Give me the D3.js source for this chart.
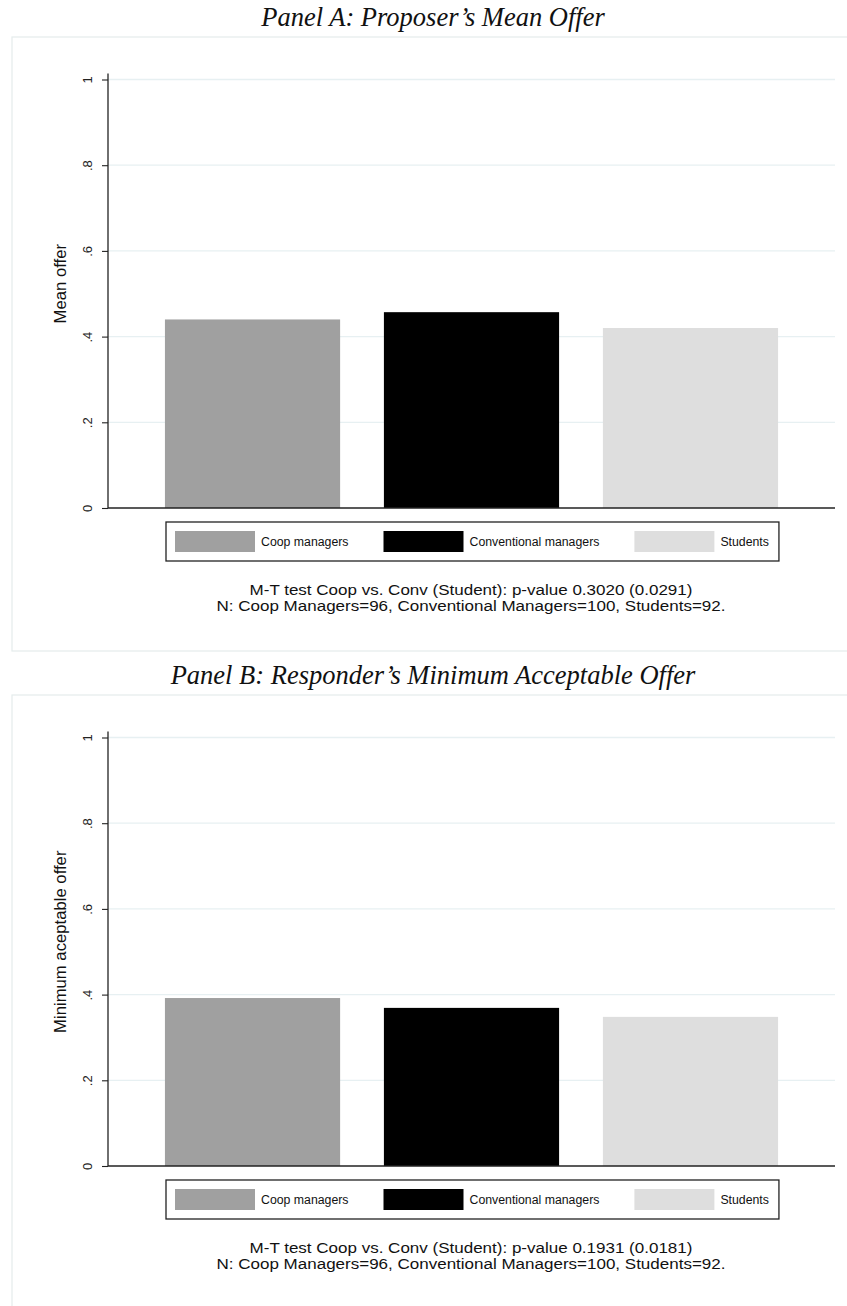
<!DOCTYPE html>
<html><head><meta charset="utf-8">
<script src="https://cdn.jsdelivr.net/npm/d3@7"></script>
<style>
html,body{margin:0;padding:0;background:#fff;}
svg{display:block;}
</style></head>
<body>
<svg id="chart" width="847" height="1306"></svg>
<script>
// ---- data ----
const groups = ["Coop managers", "Conventional managers", "Students"];
const meanOffer = [0.440, 0.457, 0.420];
const minAcceptable = [0.392, 0.369, 0.348];
const yTicks = [0, 0.2, 0.4, 0.6, 0.8, 1];
const yTickLabels = ["0", ".2", ".4", ".6", ".8", "1"];
const panelTitles = ["Panel A: Proposer\u2019s Mean Offer", "Panel B: Responder\u2019s Minimum Acceptable Offer"];
const yLabels = ["Mean offer", "Minimum aceptable offer"];
const notesA = ["M-T test Coop vs. Conv (Student): p-value 0.3020 (0.0291)", "N: Coop Managers=96, Conventional Managers=100, Students=92."];
const notesB = ["M-T test Coop vs. Conv (Student): p-value 0.1931 (0.0181)", "N: Coop Managers=96, Conventional Managers=100, Students=92."];

const colors = ["#a0a0a0", "#000000", "#dedede"];
const svg = d3.select("#chart");

function drawPanel(values, title, ylab, notes, dy) {
  const g = svg.append("g").attr("transform", `translate(0,${dy})`);
  // frame
  g.append("rect").attr("x", 12).attr("y", 37).attr("width", 850).attr("height", dy === 0 ? 614 : 700)
    .attr("fill", "#fff").attr("stroke", "#e4ecec").attr("stroke-width", 1.2);
  // title
  g.append("text").attr("x", 433).attr("y", 26).attr("text-anchor", "middle")
    .attr("font-family", "'Liberation Serif', 'DejaVu Serif', serif").attr("font-style", "italic")
    .attr("font-size", 26.5).attr("fill", "#111").text(title);

  const y = d3.scaleLinear().domain([0, 1]).range([508, 79.5]);
  const x = d3.scaleBand().domain(groups).range([108, 835]).paddingInner(0.2).paddingOuter(0.26);

  // gridlines
  g.append("g").selectAll("line").data(yTicks.filter(d => d > 0)).join("line")
    .attr("x1", 108).attr("x2", 835).attr("y1", d => y(d)).attr("y2", d => y(d))
    .attr("stroke", "#e7f0f2").attr("stroke-width", 1.3);

  // bars
  g.append("g").selectAll("rect").data(values).join("rect")
    .attr("x", (d, i) => x(groups[i])).attr("width", x.bandwidth())
    .attr("y", d => y(d)).attr("height", d => y(0) - y(d))
    .attr("fill", (d, i) => colors[i]);

  // y axis
  const ax = g.append("g").attr("transform", "translate(108,0)")
    .call(d3.axisLeft(y).tickValues(yTicks).tickFormat((d, i) => yTickLabels[i]).tickSize(6).tickPadding(0));
  ax.select(".domain").attr("stroke", "#222").attr("stroke-width", 1.3).attr("d", `M0,${y(0)}V${y(1) - 6}`);
  ax.selectAll(".tick line").attr("stroke", "#222").attr("stroke-width", 1.1);
  ax.selectAll(".tick text").attr("font-family", "'Liberation Sans', Arial, sans-serif").attr("font-size", 13)
    .attr("fill", "#222").attr("text-anchor", "middle").attr("x", null).attr("dy", null)
    .attr("transform", "translate(-19,0) rotate(-90)").attr("dominant-baseline", "middle");

  // x axis line
  g.append("line").attr("x1", 108).attr("x2", 835).attr("y1", y(0)).attr("y2", y(0))
    .attr("stroke", "#222").attr("stroke-width", 1.5);

  // y label
  g.append("text").attr("transform", `translate(66,${(y(0) + y(1)) / 2 - 10}) rotate(-90)`)
    .attr("text-anchor", "middle").attr("font-family", "'Liberation Sans', Arial, sans-serif")
    .attr("font-size", 16.7).attr("fill", "#111").text(ylab);

  // legend
  const lg = g.append("g");
  const box = lg.append("rect").attr("y", 522).attr("height", 39).attr("fill", "#fff")
    .attr("stroke", "#222").attr("stroke-width", 1.3);
  let cx = 175;
  groups.forEach((name, i) => {
    lg.append("rect").attr("x", cx).attr("y", 531).attr("width", 80).attr("height", 21).attr("fill", colors[i]);
    const t = lg.append("text").attr("x", cx + 86).attr("y", 546)
      .attr("font-family", "'Liberation Sans', Arial, sans-serif").attr("font-size", 12.3)
      .attr("fill", "#111").text(name);
    const w = t.node().getComputedTextLength();
    cx = cx + 86 + w + (i < groups.length - 1 ? 35 : 10);
  });
  box.attr("x", 166).attr("width", cx - 166);

  // notes
  notes.forEach((s, i) => {
    const t = g.append("text").attr("x", 471).attr("y", 595 + i * 16).attr("text-anchor", "middle")
      .attr("font-family", "'Liberation Sans', Arial, sans-serif").attr("font-size", 15.5)
      .attr("fill", "#111").text(s);
    const w = t.node().getComputedTextLength();
    t.attr("textLength", w * 17 / 15.5).attr("lengthAdjust", "spacingAndGlyphs");
  });
}

drawPanel(meanOffer, panelTitles[0], yLabels[0], notesA, 0);
drawPanel(minAcceptable, panelTitles[1], yLabels[1], notesB, 658);
</script>
</body></html>
